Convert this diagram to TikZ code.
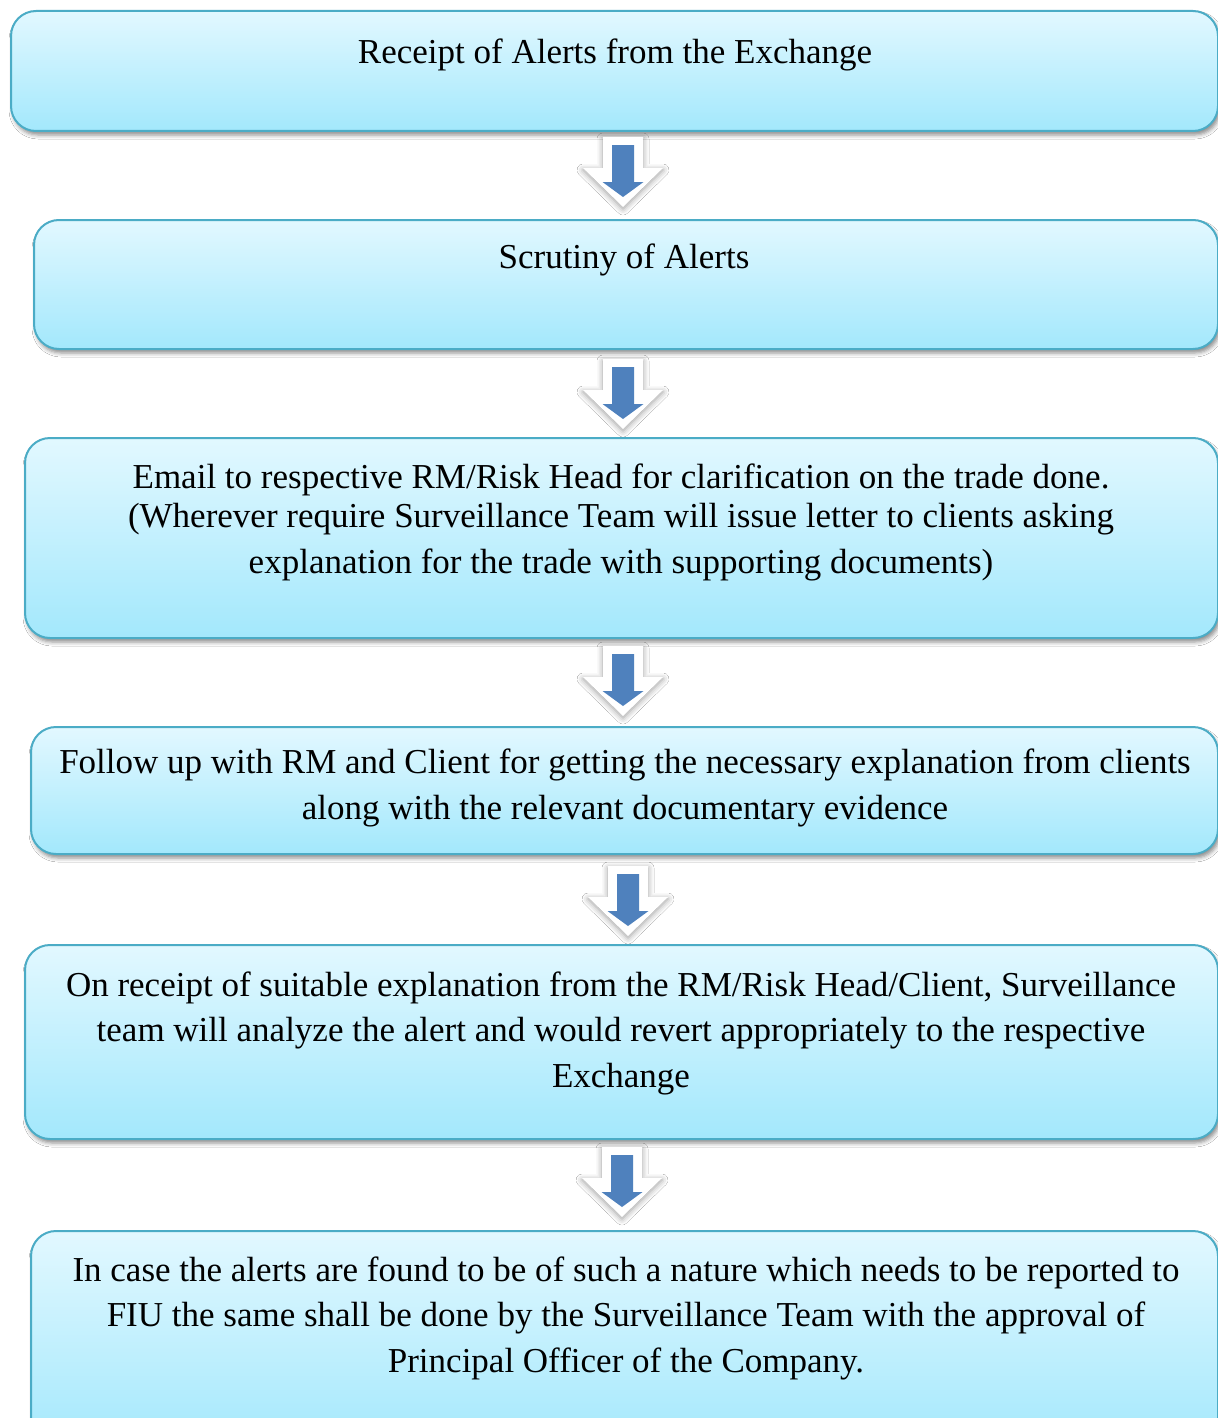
\documentclass[tikz,border=0pt]{standalone}
\usepackage{fontspec}
\setmainfont{Liberation Serif}
\usetikzlibrary{shadows,shadows.blur}
\definecolor{boxtop}{HTML}{E2F8FF}
\definecolor{boxbot}{HTML}{A3E8FC}
\definecolor{boxedge}{HTML}{4BACC6}
\definecolor{arrowblue}{HTML}{4F81BD}
\tikzset{
  box/.style={rectangle, rounded corners=12.5pt, draw=boxedge, line width=1pt,
    top color=boxtop, bottom color=boxbot, anchor=north west, inner sep=0pt,
    blur shadow={shadow xshift=1pt, shadow yshift=-2pt, shadow blur radius=2pt, shadow opacity=45}},
  txt/.style={anchor=base, align=center, inner sep=0pt,
    font=\fontsize{17.5pt}{22.75pt}\selectfont},
  whitearrow/.style={fill=white, blur shadow={shadow xshift=0pt, shadow yshift=-1pt, shadow blur radius=3pt, shadow opacity=40}},
  bluearrow/.style={fill=arrowblue}
}
\newcommand\blockarrow[2]{%
  \path[whitearrow] ({#1-20},{#2}) -- ({#1+20},{#2}) -- ({#1+20},{#2+31}) -- ({#1+40},{#2+31}) -- ({#1},{#2+70}) -- ({#1-40},{#2+31}) -- ({#1-20},{#2+31}) -- cycle;
  \path[bluearrow] ({#1-11},{#2+8}) -- ({#1+11},{#2+8}) -- ({#1+11},{#2+45}) -- ({#1+20.5},{#2+45}) -- ({#1},{#2+60}) -- ({#1-20.5},{#2+45}) -- ({#1-11},{#2+45}) -- cycle;}
\begin{document}
\begin{tikzpicture}[x=0.5pt, y=-0.5pt]
\clip (0,0) rectangle (1218,1418);
\useasboundingbox (0,0) rectangle (1218,1418);
\fill[white] (0,0) rectangle (1218,1418);

\node[box, minimum width=603.5pt, minimum height=60pt] (b1) at (10,10) {};
\node[box, minimum width=592pt, minimum height=64.5pt] (b2) at (33,219) {};
\node[box, minimum width=596.5pt, minimum height=100pt] (b3) at (24,437) {};
\node[box, minimum width=593.5pt, minimum height=63.5pt] (b4) at (30,726) {};
\node[box, minimum width=596.5pt, minimum height=97pt] (b5) at (24,944) {};
\node[box, minimum width=593.5pt, minimum height=110pt] (b6) at (30,1230) {};

\node[txt] (t1) at (615,64) {Receipt of Alerts from the Exchange};
\node[txt] (t2) at (624,268) {Scrutiny of Alerts};
\node[txt] (t3) at (621,573) {Email to respective RM/Risk Head for clarification on the trade done.\\[-3pt]
(Wherever require Surveillance Team will issue letter to clients asking\\
explanation for the trade with supporting documents)};
\node[txt] (t4) at (625,819) {Follow up with RM and Client for getting the necessary explanation from clients\\
along with the relevant documentary evidence};
\node[txt] (t5) at (621,1087) {On receipt of suitable explanation from the RM/Risk Head/Client, Surveillance\\
team will analyze the alert and would revert appropriately to the respective\\
Exchange};
\node[txt] (t6) at (626,1372) {In case the alerts are found to be of such a nature which needs to be reported to\\
FIU the same shall be done by the Surveillance Team with the approval of\\
Principal Officer of the Company.};

\blockarrow{623}{137}
\blockarrow{623}{359}
\blockarrow{623}{646}
\blockarrow{628}{866}
\blockarrow{622}{1147}
\end{tikzpicture}
\end{document}
